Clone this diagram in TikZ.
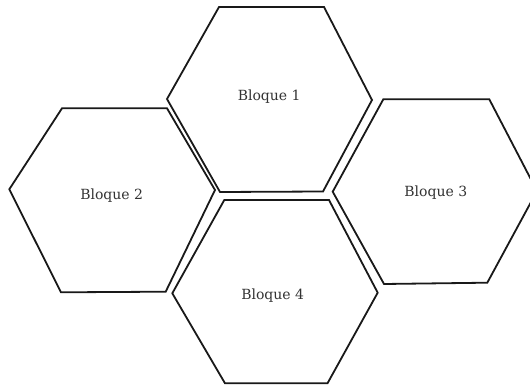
\documentclass[tikz,border=0pt]{standalone}
\usepackage{fontspec}
\setmainfont{DejaVu Serif}
\begin{document}
\begin{tikzpicture}[x=1pt,y=-1pt,
  hexa/.style={draw=black!90,line width=1.8pt,line join=miter},
  lbl/.style={anchor=base,inner sep=0pt,text=black!80,font=\fontsize{14}{16}\selectfont}]
\useasboundingbox (0,0) rectangle (530,385);
\clip (0,0) rectangle (530,385);
\fill[white] (0,0) rectangle (530,385);
% Bloque 1
\draw[hexa] (219,7) -- (324,7) -- (372,100) -- (323,191.5) -- (220,192) -- (167,99) -- cycle;
% Bloque 2
\draw[hexa] (62,108.3) -- (167,108.3) -- (215,190) -- (165.7,291.7) -- (61,292.3) -- (9.3,189.3) -- cycle;
% Bloque 3
\draw[hexa] (383.3,99.3) -- (489.3,99.3) -- (537,191) -- (487.3,282.7) -- (384,284) -- (332.7,191.7) -- cycle;
% Bloque 4
\draw[hexa] (224.3,200) -- (329,200) -- (377.7,292.7) -- (327.5,383.3) -- (225,383.3) -- (172.3,293.3) -- cycle;
\node[lbl] (b1) at (269.2,100.7) {Bloque 1};
\node[lbl] (b2) at (111.7,199) {Bloque 2};
\node[lbl] (b3) at (435.8,196.7) {Bloque 3};
\node[lbl] (b4) at (272.7,299.3) {Bloque 4};
\end{tikzpicture}
\end{document}
